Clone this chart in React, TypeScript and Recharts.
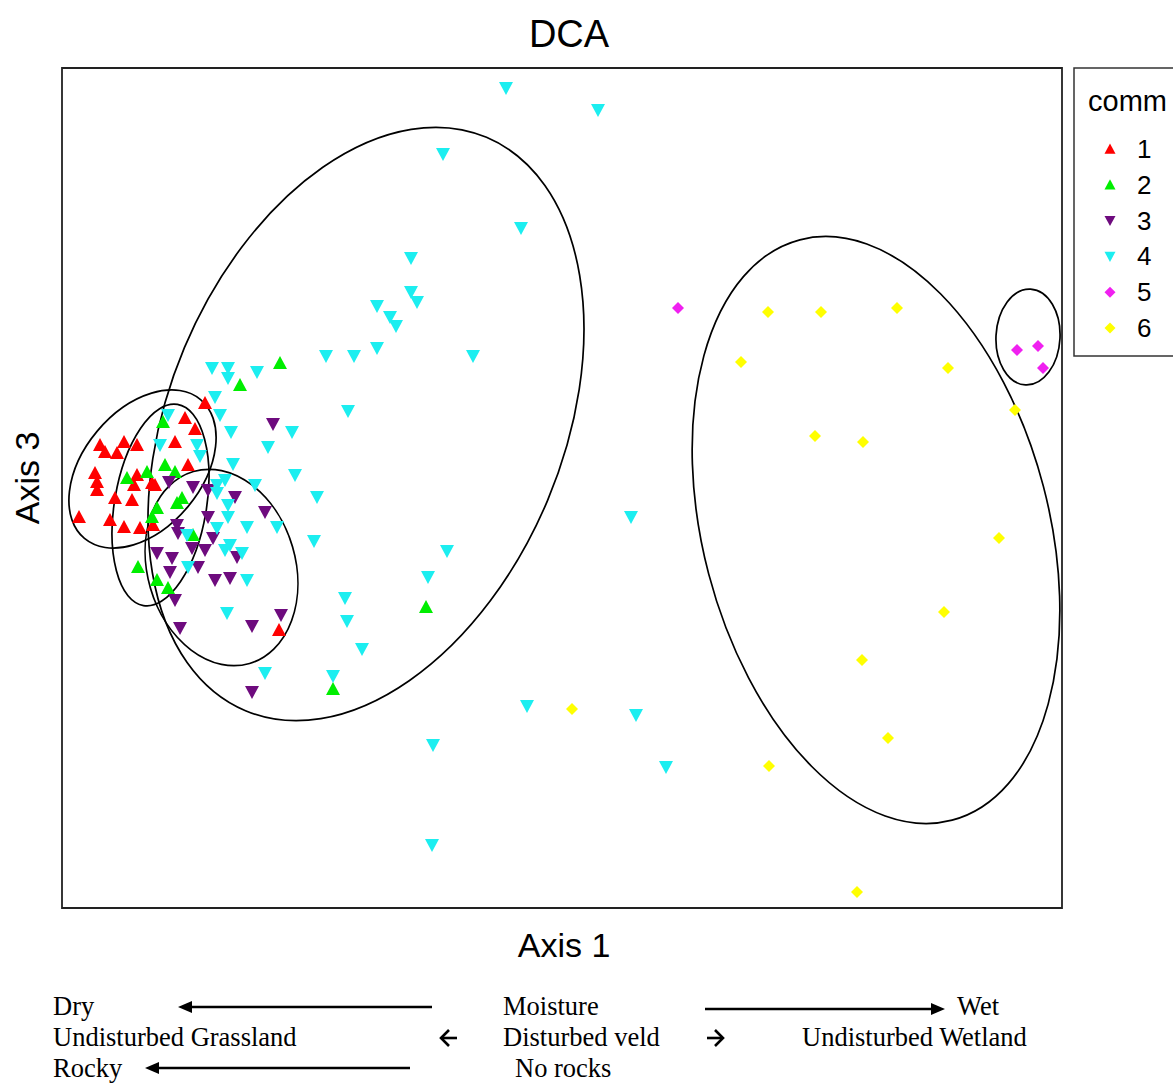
import React from "react";
import { ScatterChart, Scatter, XAxis, YAxis, ReferenceArea } from "recharts";

// DCA site scores (axis 1, axis 3), one list per community
const comm1: [number, number][] = [
  [1.43, 5.05], [1.23, 4.9], [1.33, 4.79], [1.13, 4.66], [0.38, 4.63], [0.62, 4.66], [0.75, 4.63],
  [0.43, 4.56], [0.55, 4.55], [0.33, 4.35], [0.35, 4.26], [0.35, 4.18], [0.75, 4.33], [0.72, 4.23],
  [0.53, 4.1], [0.7, 4.08], [0.17, 3.91], [0.48, 3.88], [0.62, 3.81], [0.78, 3.8], [0.9, 4.25],
  [1.26, 4.43], [0.93, 4.23], [0.91, 3.83], [2.17, 2.78],
];
const comm2: [number, number][] = [
  [2.18, 5.45], [1.78, 5.23], [1.01, 4.86], [1.03, 4.43], [1.13, 4.36], [1.2, 4.1], [0.95, 4.0],
  [0.65, 4.3], [0.85, 4.36], [0.9, 3.91], [1.31, 3.73], [0.76, 3.41], [0.95, 3.28], [1.06, 3.2],
  [1.15, 4.05], [3.64, 3.01], [2.71, 2.19],
];
const comm3: [number, number][] = [
  [2.11, 4.84], [1.07, 4.26], [1.31, 4.21], [1.46, 4.18], [1.73, 4.11], [2.03, 3.96], [1.15, 3.83],
  [1.16, 3.75], [1.46, 3.91], [1.51, 3.7], [1.3, 3.6], [1.43, 3.58], [0.95, 3.55], [1.1, 3.5],
  [1.36, 3.41], [1.08, 3.36], [1.53, 3.28], [1.68, 3.3], [1.13, 3.08], [1.75, 3.51], [1.18, 2.8],
  [1.9, 2.82], [2.19, 2.93], [1.9, 2.16],
];
const comm4: [number, number][] = [
  [4.44, 8.2], [5.36, 7.98], [3.81, 7.54], [4.59, 6.8], [3.49, 6.5], [3.49, 6.16], [3.55, 6.06],
  [3.15, 6.02], [3.28, 5.91], [3.34, 5.82], [3.15, 5.6], [2.64, 5.52], [2.92, 5.52], [4.11, 5.52],
  [1.5, 5.4], [1.66, 5.4], [1.66, 5.3], [1.95, 5.36], [1.53, 5.11], [1.58, 4.93], [2.86, 4.97],
  [1.69, 4.76], [2.3, 4.76], [1.06, 4.93], [0.98, 4.63], [1.35, 4.63], [2.06, 4.61], [1.38, 4.52],
  [1.71, 4.44], [2.33, 4.33], [1.63, 4.28], [1.55, 4.23], [1.93, 4.23], [1.55, 4.15], [1.66, 4.03],
  [1.66, 3.91], [1.85, 3.81], [2.15, 3.81], [1.55, 3.8], [1.25, 3.73], [1.68, 3.63], [1.63, 3.58],
  [1.8, 3.55], [1.26, 3.41], [1.85, 3.28], [1.65, 2.95], [2.55, 4.11], [2.52, 3.67], [5.69, 3.91],
  [3.85, 3.57], [3.66, 3.31], [2.83, 3.1], [2.85, 2.87], [3.0, 2.59], [2.71, 2.32], [2.03, 2.35],
  [4.65, 2.02], [5.74, 1.93], [3.71, 1.63], [6.04, 1.41], [3.7, 0.63],
];
const comm5: [number, number][] = [[6.16, 6.0], [9.55, 5.58], [9.76, 5.62], [9.81, 5.4]];
const comm6: [number, number][] = [
  [7.06, 5.96], [7.59, 5.96], [8.35, 6.0], [6.79, 5.46], [8.86, 5.4], [9.53, 4.98], [7.53, 4.72],
  [8.01, 4.66], [9.37, 3.7], [8.82, 2.96], [8.0, 2.48], [8.26, 1.7], [7.07, 1.42], [7.95, 0.16],
  [5.1, 1.99],
];

// ellipses around each group: centre, semi-axes, tilt in degrees
const ellipses = [
  { cx: 3.04, cy: 4.84, rx: 1.97, ry: 3.11, angle: 22.8 },
  { cx: 8.14, cy: 3.78, rx: 1.73, ry: 3.0, angle: -14.7 },
  { cx: 9.66, cy: 5.71, rx: 0.32, ry: 0.48, angle: 3 },
  { cx: 0.805, cy: 4.39, rx: 0.59, ry: 0.905, angle: 39.9 },
  { cx: 0.985, cy: 4.03, rx: 0.46, ry: 1.02, angle: 9.6 },
  { cx: 1.595, cy: 3.405, rx: 0.74, ry: 1.0, angle: -16.3 },
];

const groups = ["1", "2", "3", "4", "5", "6"];
const colors = ["#FF0000", "#00EE00", "#6E0B7E", "#1CEEF0", "#F020F0", "#FFFF00"];
const kinds = ["up", "up", "down", "down", "diamond", "diamond"];
const series = [comm1, comm2, comm3, comm4, comm5, comm6];

function marker(kind: string, color: string, cx: number, cy: number, s: number, key?: any) {
  if (kind === "up")
    return <polygon key={key} points={`${cx - s},${cy + s * 0.85} ${cx + s},${cy + s * 0.85} ${cx},${cy - s}`} fill={color} />;
  if (kind === "down")
    return <polygon key={key} points={`${cx - s},${cy - s * 0.85} ${cx + s},${cy - s * 0.85} ${cx},${cy + s}`} fill={color} />;
  return <polygon key={key} points={`${cx},${cy - s} ${cx + s},${cy} ${cx},${cy + s} ${cx - s},${cy}`} fill={color} />;
}

const ellipseShape = (angle: number) => (p: any) => {
  const cx = p.x + p.width / 2;
  const cy = p.y + p.height / 2;
  return (
    <ellipse cx={cx} cy={cy} rx={Math.abs(p.width) / 2} ry={Math.abs(p.height) / 2}
      transform={`rotate(${angle} ${cx} ${cy})`} fill="none" stroke="#000" strokeWidth={1.7} />
  );
};

const sans = "'Liberation Sans', Arial, sans-serif";
const serif = "'Liberation Serif', 'Times New Roman', serif";

function Arrow({ x1, x2, y, head = 14 }: { x1: number; x2: number; y: number; head?: number }) {
  const dir = x2 < x1 ? -1 : 1;
  return (
    <g>
      <line x1={x1} y1={y} x2={x2 - dir * head} y2={y} stroke="#000" strokeWidth={2.4} />
      <polygon points={`${x2},${y} ${x2 - dir * head},${y - 6} ${x2 - dir * head},${y + 6}`} fill="#000" />
    </g>
  );
}

function Chevron({ x, y, dir }: { x: number; y: number; dir: number }) {
  // short arrow glyph, dir -1 = left
  return (
    <g stroke="#000" strokeWidth={2.6} fill="none">
      <line x1={x - 8} y1={y} x2={x + 8} y2={y} />
      <polyline points={`${x},${y - 8} ${x + dir * 8},${y} ${x},${y + 8}`} />
    </g>
  );
}

export default function App() {
  return (
    <div style={{ position: "absolute", left: 0, top: 0, width: 1173, height: 1083, background: "#fff" }}>
      <ScatterChart width={1173} height={1083} margin={{ top: 68, right: 111, bottom: 175, left: 62 }}>
        <XAxis type="number" dataKey="x" domain={[0, 10]} hide allowDataOverflow />
        <YAxis type="number" dataKey="y" domain={[0, 8.4]} hide allowDataOverflow />
        {series.map((pts, i) => (
          <Scatter key={groups[i]} name={groups[i]} data={pts.map(([x, y]) => ({ x, y }))}
            isAnimationActive={false}
            shape={(p: any) => marker(kinds[i], colors[i], p.cx, p.cy, kinds[i] === "diamond" ? 6 : 7)} />
        ))}
        {ellipses.map((e, i) => (
          <ReferenceArea key={i} x1={e.cx - e.rx} x2={e.cx + e.rx} y1={e.cy - e.ry} y2={e.cy + e.ry}
            ifOverflow="visible" shape={ellipseShape(e.angle)} />
        ))}
        <ReferenceArea x1={0} x2={10} y1={0} y2={8.4} ifOverflow="visible" fill="none" fillOpacity={0}
          stroke="#222" strokeWidth={1.8} />
      </ScatterChart>

      <svg width={1173} height={1083} style={{ position: "absolute", left: 0, top: 0, pointerEvents: "none" }}>
        <text x={569} y={47} textAnchor="middle" fontFamily={sans} fontSize={38}>DCA</text>
        <text x={564} y={957} textAnchor="middle" fontFamily={sans} fontSize={34}>Axis 1</text>
        <text transform="translate(39,478) rotate(-90)" textAnchor="middle" fontFamily={sans} fontSize={34}>Axis 3</text>

        <rect x={1074} y={68} width={120} height={288} fill="#fff" stroke="#333" strokeWidth={1.5} />
        <text x={1088} y={111} fontFamily={sans} fontSize={29}>comm</text>
        {groups.map((g, i) => {
          const y = 149 + i * 35.8;
          return (
            <g key={g}>
              {marker(kinds[i], colors[i], 1110, y, 5.5)}
              <text x={1137} y={y + 9} fontFamily={sans} fontSize={26}>{g}</text>
            </g>
          );
        })}

        <g fontFamily={serif} fontSize={26.5}>
          <text x={53} y={1015}>Dry</text>
          <text x={503} y={1015}>Moisture</text>
          <text x={957} y={1015}>Wet</text>
          <text x={53} y={1046}>Undisturbed Grassland</text>
          <text x={503} y={1046}>Disturbed veld</text>
          <text x={802} y={1046}>Undisturbed Wetland</text>
          <text x={53} y={1077}>Rocky</text>
          <text x={515} y={1077}>No rocks</text>
        </g>
        <Arrow x1={432} x2={178} y={1007} />
        <Arrow x1={705} x2={945} y={1009} />
        <Arrow x1={410} x2={145} y={1068} />
        <Chevron x={449} y={1038} dir={-1} />
        <Chevron x={715} y={1038} dir={1} />
      </svg>
    </div>
  );
}
